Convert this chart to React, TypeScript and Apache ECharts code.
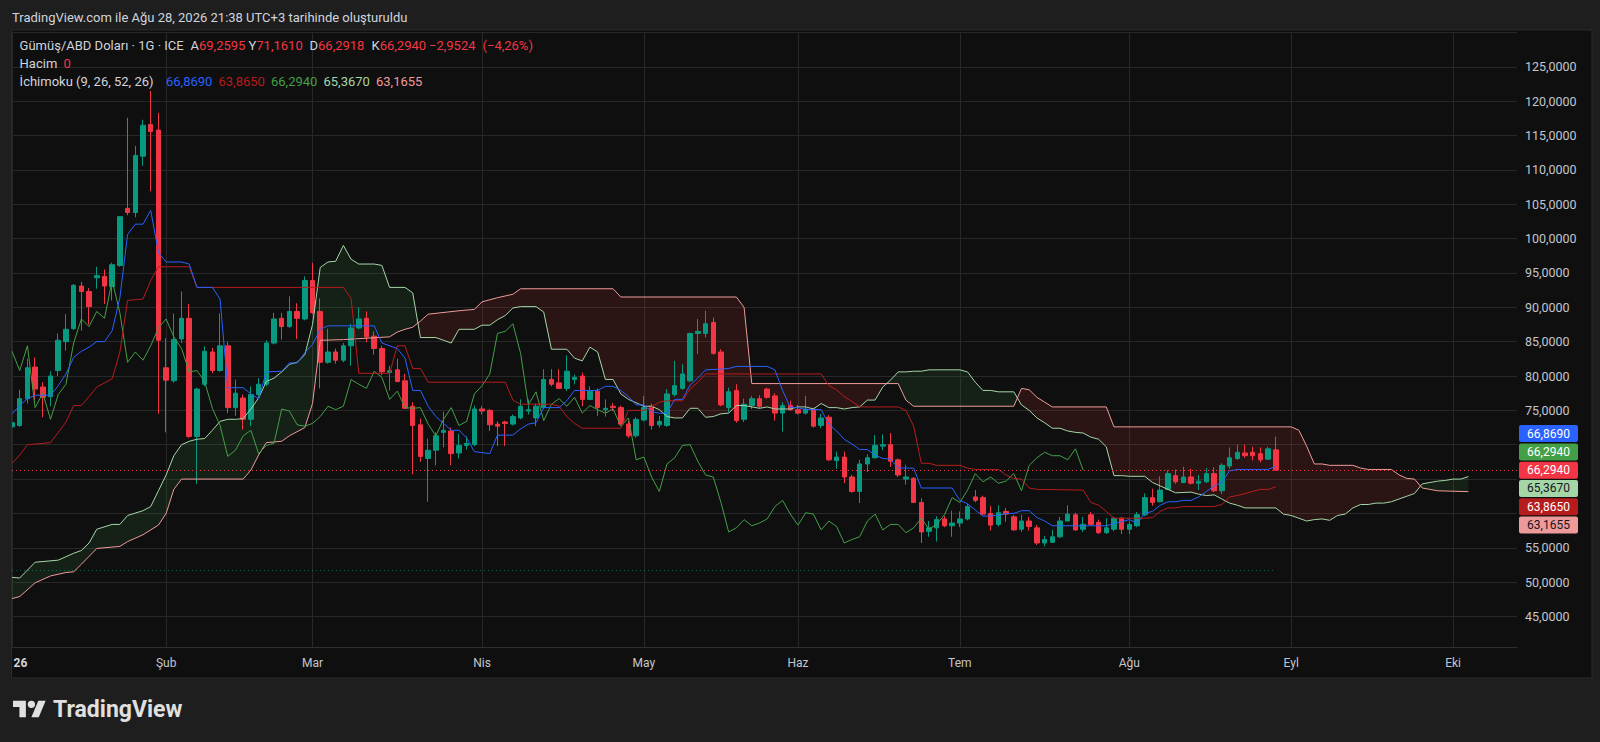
import React, { useEffect, useRef } from "react";
import * as echarts from "echarts";

// ---------- axis / calendar ----------
const FIRST_INDEX = -20; // 2 Jan 2026 (bar index, 0 = 2 Feb 2026)
const X_MAX = 175.3;
const monthStartIndex = [-20, 0, 19, 41, 62, 82, 103, 125, 146, 167];
const monthLabels = ["26", "Şub", "Mar", "Nis", "May", "Haz", "Tem", "Ağu", "Eyl", "Eki"];

// ---------- daily candles (index -20 .. 144) ----------
const opens = [
  72.6, 72.8, 76.7, 81.3, 78.4, 77.0, 80.8, 85.0, 86.9, 93.1,
  92.3, 94.3, 94.5, 93.0, 96.1, 104.4, 103.8, 112.0, 116.6, 115.8,
  81.2, 79.3, 85.4, 88.4, 71.2, 78.8, 83.5, 80.8, 84.4, 75.4,
  76.8, 73.7, 77.3, 78.8, 84.8, 88.4, 87.2, 89.4, 88.3, 93.9,
  89.4, 82.0, 83.5, 82.3, 84.4, 87.0, 88.4, 85.8, 84.0, 80.5,
  80.9, 79.3, 75.6, 72.9, 68.0, 69.2, 71.8, 72.0, 68.8, 69.9,
  70.0, 75.2, 75.0, 73.0, 73.3, 73.0, 73.9, 74.9, 73.9, 75.4,
  79.5, 79.0, 78.2, 79.5, 80.0, 76.6, 77.8, 75.1, 75.6, 75.4,
  73.0, 71.3, 73.6, 75.6, 72.9, 72.8, 77.3, 78.2, 79.3, 86.2,
  86.2, 87.8, 83.5, 75.4, 77.9, 73.7, 75.7, 76.7, 78.1, 77.1,
  74.6, 75.7, 75.1, 74.6, 75.2, 72.8, 74.0, 67.7, 68.2, 65.3,
  63.2, 67.2, 68.1, 69.8, 70.0, 67.8, 65.0, 65.1, 61.6, 57.4,
  57.9, 59.2, 58.2, 58.6, 59.2, 62.4, 62.3, 60.0, 58.4, 60.3,
  59.5, 57.7, 58.9, 57.9, 55.7, 55.8, 56.6, 58.9, 59.8, 57.7,
  59.8, 58.7, 57.2, 57.7, 59.3, 57.7, 58.2, 59.8, 62.3, 61.7,
  63.5, 65.5, 64.5, 65.3, 64.4, 64.6, 65.8, 63.3, 66.9, 68.0,
  68.8, 68.9, 68.7, 67.9, 69.2595,
];
const closes = [
  73.2, 76.7, 81.2, 78.1, 76.9, 80.0, 85.2, 86.8, 93.2, 92.3,
  90.1, 94.6, 93.1, 96.2, 103.2, 103.8, 112.1, 116.5, 115.6, 85.2,
  79.4, 85.3, 88.4, 71.2, 78.1, 83.6, 80.8, 84.4, 75.4, 77.5,
  73.7, 77.3, 78.8, 84.8, 88.3, 87.2, 89.4, 88.4, 93.9, 89.2,
  82.0, 83.5, 82.3, 84.4, 87.0, 88.3, 85.7, 84.0, 80.6, 80.8,
  79.2, 75.3, 72.8, 68.3, 69.2, 71.3, 72.1, 68.7, 69.9, 70.2,
  75.2, 74.9, 72.9, 72.7, 73.1, 74.1, 75.6, 75.1, 75.6, 79.5,
  78.8, 78.2, 80.7, 79.8, 76.6, 77.8, 75.4, 75.3, 75.4, 73.0,
  71.3, 73.7, 75.4, 72.8, 73.4, 77.4, 78.6, 80.3, 86.2, 86.5,
  87.6, 83.3, 75.8, 77.7, 73.5, 75.9, 76.7, 75.6, 76.9, 74.6,
  75.7, 75.1, 74.6, 75.2, 72.7, 73.9, 67.8, 68.2, 65.3, 63.2,
  67.2, 68.1, 69.9, 70.0, 67.6, 65.6, 65.3, 61.6, 57.3, 57.9,
  59.1, 58.2, 58.6, 59.2, 61.0, 61.9, 59.9, 58.3, 60.1, 59.9,
  57.6, 58.9, 58.1, 55.7, 56.2, 56.6, 58.9, 59.9, 57.6, 58.4,
  58.4, 57.2, 57.9, 59.3, 57.7, 58.4, 59.8, 62.3, 61.6, 63.4,
  65.8, 64.6, 65.3, 64.4, 64.7, 65.8, 63.3, 67.0, 68.1, 68.9,
  68.4, 68.4, 67.8, 69.4, 66.294,
];
const lows = [
  72.0, 72.6, 76.0, 76.5, 74.0, 75.6, 80.0, 83.7, 86.7, 86.6,
  87.5, 92.7, 90.5, 91.0, 95.9, 103.4, 103.1, 110.6, 106.9, 74.5,
  71.8, 79.0, 84.8, 71.0, 64.3, 78.5, 80.4, 80.6, 74.6, 74.2,
  72.2, 72.7, 77.0, 78.5, 84.6, 85.3, 87.0, 85.4, 88.1, 89.0,
  78.2, 81.8, 81.8, 82.0, 81.5, 86.8, 84.9, 83.1, 80.1, 77.9,
  79.1, 75.2, 65.7, 67.5, 61.7, 67.0, 69.6, 67.0, 68.0, 69.3,
  69.8, 74.4, 72.0, 69.8, 69.8, 72.8, 73.7, 74.4, 72.7, 75.2,
  78.5, 78.1, 77.8, 78.8, 75.6, 76.5, 74.2, 74.1, 74.9, 72.8,
  71.0, 71.0, 73.4, 72.2, 72.5, 72.6, 77.0, 78.0, 79.1, 83.2,
  85.6, 83.1, 75.6, 74.7, 73.2, 73.3, 75.2, 75.3, 76.7, 73.5,
  71.9, 74.9, 74.4, 74.4, 72.5, 72.4, 67.6, 66.5, 64.4, 63.0,
  61.5, 66.0, 68.0, 69.2, 66.8, 65.3, 64.2, 61.5, 55.7, 56.6,
  55.9, 58.0, 56.6, 58.0, 59.0, 61.6, 59.8, 57.5, 58.1, 58.8,
  57.5, 57.3, 57.5, 55.4, 55.2, 55.7, 56.4, 58.8, 57.5, 57.3,
  58.3, 57.0, 57.0, 57.4, 57.0, 57.0, 58.0, 59.6, 61.1, 61.6,
  63.4, 64.3, 64.4, 64.2, 63.4, 64.5, 63.1, 62.8, 66.5, 67.8,
  68.1, 67.7, 67.4, 67.8, 66.2918,
];
const highs = [
  74.0, 78.0, 82.5, 82.7, 79.1, 80.7, 86.2, 89.0, 93.4, 93.7,
  92.8, 95.9, 95.5, 96.5, 103.3, 117.6, 113.5, 117.3, 121.5, 118.3,
  85.5, 89.1, 92.3, 90.5, 78.3, 84.3, 84.1, 89.1, 85.0, 79.5,
  77.3, 78.5, 79.7, 85.2, 89.2, 89.2, 91.6, 90.6, 94.5, 96.5,
  91.3, 86.9, 84.0, 84.8, 87.6, 90.0, 89.4, 86.5, 84.4, 81.5,
  82.5, 80.3, 76.2, 73.8, 70.9, 71.8, 74.8, 72.5, 71.6, 71.2,
  75.7, 75.6, 75.2, 73.4, 73.5, 74.4, 76.6, 76.6, 76.0, 81.0,
  81.0, 81.0, 83.0, 80.2, 80.5, 78.5, 78.2, 76.6, 76.1, 75.7,
  73.5, 74.0, 77.1, 76.0, 74.2, 78.1, 82.2, 81.7, 86.3, 88.3,
  89.5, 88.5, 83.9, 78.3, 78.8, 76.7, 77.1, 77.2, 78.3, 77.5,
  76.2, 76.4, 75.8, 77.1, 75.4, 74.5, 74.3, 69.0, 69.0, 65.6,
  67.8, 68.6, 71.4, 71.5, 71.7, 68.0, 67.1, 65.3, 62.2, 58.9,
  59.6, 59.6, 60.4, 60.3, 61.4, 63.4, 62.6, 61.1, 61.2, 60.8,
  59.8, 59.8, 59.5, 58.3, 56.7, 57.6, 59.5, 61.2, 60.1, 59.5,
  60.2, 59.1, 59.3, 59.5, 59.5, 58.9, 60.2, 62.9, 63.6, 65.4,
  66.3, 66.4, 66.8, 66.5, 65.6, 66.6, 66.7, 67.3, 69.6, 70.0,
  70.0, 69.7, 69.6, 69.7, 71.161,
];

// ---------- Ichimoku lines: [bar index, value] ----------
const tenkanPoints = [
  [-20, 74.5], [-19, 75.7], [-18, 76.7], [-17, 77.2], [-15, 77.2], [-14, 78.6], [-13, 80.3], [-12, 82.7],
  [-11, 83.6], [-10, 84.2], [-9, 85.0], [-8, 85.0], [-7, 86.6], [-6, 91.4], [-5, 100.6], [-4, 102.1],
  [-3, 102.1], [-2, 104.1], [-1, 98.0], [0, 96.6], [2, 96.6], [3, 96.3], [4, 92.9], [6, 92.9], [7, 91.2],
  [8, 78.3], [10, 78.3], [11, 77.4], [12, 76.7], [13, 80.6], [15, 80.7], [16, 81.9], [17, 81.9], [18, 83.4],
  [19, 84.6], [20, 86.8], [21, 87.3], [27, 87.3], [28, 84.8], [30, 84.0], [31, 82.6], [32, 77.9], [33, 77.9],
  [34, 75.6], [35, 74.1], [36, 73.1], [37, 72.1], [38, 72.1], [39, 71.0], [40, 69.0], [42, 68.7], [43, 71.4],
  [45, 71.4], [46, 72.3], [47, 73.0], [48, 73.2], [49, 75.4], [51, 75.4], [52, 76.4], [53, 77.9], [56, 77.9],
  [57, 78.5], [58, 78.5], [59, 77.9], [60, 77.0], [61, 75.8], [62, 75.8], [63, 74.8], [64, 74.6], [65, 74.6],
  [66, 76.6], [67, 76.6], [68, 78.7], [69, 79.7], [70, 80.9], [72, 81.0], [73, 81.1], [74, 81.4], [78, 81.4],
  [79, 80.9], [80, 77.9], [81, 75.4], [82, 75.4], [83, 75.1], [85, 75.1], [86, 73.0], [87, 72.0], [88, 70.8],
  [89, 70.1], [90, 69.3], [91, 69.3], [92, 68.5], [93, 68.0], [94, 67.9], [95, 66.6], [97, 66.6], [98, 63.7],
  [102, 63.7], [103, 61.9], [104, 61.4], [105, 60.5], [106, 59.6], [108, 59.7], [109, 60.0], [110, 60.0],
  [111, 60.4], [112, 60.4], [113, 59.4], [114, 58.9], [115, 58.2], [122, 58.2], [123, 58.5], [124, 58.8],
  [125, 59.1], [126, 58.6], [127, 60.0], [128, 60.3], [129, 61.2], [130, 61.7], [131, 61.7], [132, 61.9],
  [133, 61.9], [134, 62.4], [135, 63.2], [136, 64.0], [137, 64.5], [138, 66.2], [139, 66.4], [143, 66.4],
  [144, 66.869],
];
const kijunPoints = [
  [-20, 67.3], [-19, 68.5], [-18, 70.0], [-15, 70.3], [-14, 71.8], [-13, 73.3], [-12, 75.7], [-11, 75.7],
  [-10, 77.0], [-9, 78.4], [-8, 79.0], [-7, 79.6], [-6, 83.5], [-5, 91.0], [-3, 91.2], [-2, 93.9], [-1, 95.9],
  [3, 95.9], [4, 92.9], [23, 92.9], [24, 91.3], [25, 80.4], [29, 80.4], [30, 84.4], [31, 84.4], [32, 81.1],
  [33, 81.1], [34, 79.1], [44, 79.1], [45, 76.5], [46, 75.9], [50, 75.9], [51, 75.6], [52, 74.1], [53, 73.1],
  [54, 72.4], [59, 72.4], [60, 75.0], [62, 75.0], [63, 75.5], [64, 76.2], [65, 76.4], [67, 76.4], [68, 78.1],
  [69, 79.1], [70, 80.3], [85, 80.3], [86, 78.6], [87, 78.0], [88, 77.0], [89, 76.3], [90, 75.5], [95, 75.5],
  [96, 75.0], [97, 72.7], [98, 67.3], [99, 67.3], [100, 67.0], [103, 67.0], [104, 66.6], [105, 66.4],
  [108, 66.4], [109, 65.6], [110, 65.1], [111, 65.0], [112, 63.7], [113, 63.5], [119, 63.4], [120, 61.6],
  [121, 61.2], [122, 60.3], [123, 59.3], [127, 59.3], [128, 59.4], [129, 60.3], [130, 60.8], [131, 60.8],
  [132, 61.0], [136, 61.0], [137, 61.3], [138, 62.4], [139, 62.6], [140, 62.9], [141, 63.2], [142, 63.5],
  [143, 63.5], [144, 63.865],
];
const spanAPoints = [
  [-20, 50.7], [-19, 50.6], [-17, 52.9], [-14, 53.2], [-13, 53.7], [-12, 54.2], [-11, 54.6], [-10, 55.7],
  [-9, 57.7], [-7, 58.4], [-6, 58.4], [-5, 59.7], [-3, 60.4], [-2, 61.0], [-1, 63.3], [0, 65.6], [1, 68.4],
  [2, 70.0], [3, 70.5], [4, 70.8], [5, 70.9], [6, 72.1], [7, 73.4], [8, 73.7], [9, 73.7], [10, 73.8],
  [11, 75.2], [12, 76.8], [13, 79.2], [14, 79.7], [15, 80.6], [16, 81.7], [17, 82.0], [18, 83.1], [19, 87.5],
  [20, 95.8], [21, 96.6], [22, 96.7], [23, 99.0], [24, 97.0], [25, 96.3], [27, 96.3], [28, 96.1], [29, 92.9],
  [31, 92.9], [32, 92.1], [33, 85.6], [35, 85.6], [36, 85.2], [37, 84.8], [38, 86.8], [40, 86.8], [41, 87.4],
  [42, 87.4], [43, 88.2], [44, 88.8], [45, 89.9], [46, 90.1], [48, 90.1], [49, 89.3], [50, 83.9], [52, 83.9],
  [53, 82.6], [54, 82.2], [55, 84.2], [56, 83.5], [57, 79.5], [58, 79.5], [59, 77.4], [60, 76.6], [61, 76.1],
  [62, 75.6], [63, 75.6], [64, 75.1], [65, 74.1], [66, 73.9], [67, 73.9], [68, 75.3], [69, 75.3], [70, 74.0],
  [71, 74.1], [72, 74.5], [73, 74.6], [74, 75.7], [75, 75.7], [76, 75.5], [77, 75.3], [78, 75.5], [79, 75.2],
  [81, 75.2], [82, 75.5], [83, 75.5], [84, 75.2], [85, 76.0], [86, 75.4], [87, 75.4], [88, 75.2], [89, 75.4],
  [90, 75.5], [91, 76.5], [92, 76.5], [93, 78.4], [94, 79.4], [95, 80.6], [96, 80.6], [97, 80.7], [98, 80.7],
  [99, 80.9], [103, 80.9], [104, 80.6], [105, 79.1], [106, 77.9], [107, 77.9], [108, 77.7], [110, 77.7],
  [111, 75.8], [112, 75.0], [113, 73.9], [114, 73.2], [115, 72.4], [116, 72.4], [117, 72.0], [118, 71.8],
  [119, 71.7], [120, 71.1], [121, 70.8], [122, 69.7], [123, 65.5], [124, 65.5], [125, 65.4], [127, 65.4],
  [128, 64.5], [129, 64.0], [130, 63.5], [131, 63.0], [133, 63.1], [134, 62.8], [135, 62.6], [136, 62.7],
  [137, 62.1], [138, 61.5], [139, 61.2], [140, 60.8], [144, 60.8], [145, 59.9], [146, 59.7], [147, 59.3],
  [148, 58.9], [149, 59.1], [150, 59.2], [151, 59.0], [152, 59.7], [153, 59.9], [154, 60.8], [155, 61.3],
  [156, 61.3], [157, 61.5], [158, 61.5], [159, 61.7], [160, 62.1], [161, 62.5], [162, 62.9], [163, 64.3],
  [164, 64.5], [165, 64.7], [166, 64.8], [167, 65.0], [168, 65.0], [169, 65.367],
];
const spanBPoints = [
  [-20, 47.6], [-19, 47.9], [-17, 49.9], [-15, 50.9], [-13, 51.4], [-12, 51.5], [-11, 52.6], [-9, 54.9],
  [-6, 55.2], [-5, 55.9], [-3, 56.9], [-1, 58.3], [0, 60.0], [1, 63.5], [2, 65.0], [10, 65.0], [11, 66.3],
  [12, 68.5], [13, 70.3], [15, 70.5], [16, 71.3], [18, 72.5], [19, 76.0], [20, 85.2], [23, 85.3], [26, 85.5],
  [29, 85.7], [30, 86.4], [31, 86.8], [32, 87.1], [33, 88.0], [34, 89.0], [38, 89.5], [40, 89.7], [41, 90.8],
  [43, 91.4], [45, 91.9], [46, 92.7], [58, 92.7], [59, 91.5], [74, 91.5], [75, 90.0], [76, 78.9], [95, 78.9],
  [96, 76.5], [97, 75.6], [110, 75.6], [111, 78.2], [112, 78.0], [113, 76.9], [114, 76.2], [115, 75.5],
  [122, 75.5], [123, 72.6], [146, 72.6], [147, 72.1], [148, 69.8], [149, 67.2], [150, 67.2], [151, 67.0],
  [154, 67.0], [155, 66.6], [156, 66.4], [159, 66.4], [160, 65.6], [161, 65.1], [162, 65.0], [163, 63.7],
  [164, 63.5], [165, 63.3], [169, 63.1655],
];
const LAG_SHIFT = 25;

// ---------- legend values ----------
const lastBar = { open: 69.2595, high: 71.161, low: 66.2918, close: 66.294 };
const lastChange = -2.9524;
const lastChangePct = -4.26;
const lastVolume = 0;
const volumeLineLevel = 51.7;
const ichimokuLast = [66.869, 63.865, 66.294, 65.367, 63.1655]; // conversion, base, lagging, spanA, spanB

// ---------- styles ----------
const FONT = "Roboto, 'Noto Sans', sans-serif";
const PANEL_BG = "#0f0f0f";
const OUTER_BG = "#1e1e1e";
const GRID_COLOR = "#282828";
const TEXT = "#d1d4dc";
const AXIS_TEXT = "#c3c6ce";
const UP = "#089981";
const DOWN = "#f23645";
const C_TENKAN = "#2962ff";
const C_KIJUN = "#b71c1c";
const C_LAG = "#43a047";
const C_SPANA = "#a5d6a7";
const C_SPANB = "#ef9a9a";
const CLOUD_UP = "rgba(67,160,71,0.12)";
const CLOUD_DOWN = "rgba(244,67,54,0.12)";
const TAG_PITCH = 18.3;
const TAG_H = 17;

const TV_LOGO_PATH =
  "M14 22H7V11H0V4h14v18zM28 22h-8l7.5-18h8L28 22zM16 8a4 4 0 1 0 8 0a4 4 0 1 0 -8 0z";
echarts.graphic.registerShape("tvLogo", echarts.graphic.extendPath(TV_LOGO_PATH, {}));

const fmt = (v: number) => v.toFixed(4).replace(".", ",").replace("-", "\u2212");

function piecewise(pts: number[][], x: number) {
  if (x <= pts[0][0]) return pts[0][1];
  for (let i = 1; i < pts.length; i++) {
    if (x <= pts[i][0]) {
      const [x0, y0] = pts[i - 1];
      const [x1, y1] = pts[i];
      return y0 + ((y1 - y0) * (x - x0)) / (x1 - x0);
    }
  }
  return pts[pts.length - 1][1];
}

function cloudShapes(A: number[][], B: number[][]) {
  const xs = Array.from(new Set([...A.map((p) => p[0]), ...B.map((p) => p[0])])).sort((a, b) => a - b);
  const shapes: { up: boolean; pts: number[][] }[] = [];
  let upper: number[][] = [];
  let lower: number[][] = [];
  let sign = 0;
  for (let i = 0; i < xs.length; i++) {
    const x = xs[i];
    const a = piecewise(A, x);
    const b = piecewise(B, x);
    const s = a >= b ? 1 : -1;
    if (i === 0) {
      upper = [[x, a]];
      lower = [[x, b]];
      sign = s;
      continue;
    }
    if (s !== sign) {
      const xp = xs[i - 1];
      const ap = piecewise(A, xp);
      const bp = piecewise(B, xp);
      const d0 = ap - bp;
      const d1 = a - b;
      const t = d0 / (d0 - d1);
      const xc = xp + t * (x - xp);
      const yc = ap + t * (a - ap);
      upper.push([xc, yc]);
      shapes.push({ up: sign > 0, pts: upper.concat(lower.slice().reverse()) });
      upper = [[xc, yc], [x, a]];
      lower = [[xc, yc], [x, b]];
      sign = s;
    } else {
      upper.push([x, a]);
      lower.push([x, b]);
    }
  }
  shapes.push({ up: sign > 0, pts: upper.concat(lower.slice().reverse()) });
  return shapes;
}

function yLabelFormatter(hideLo: number, hideHi: number) {
  return (v: number) => {
    if (v < 44.9 || v > 125.1) return "";
    if (v >= hideLo && v <= hideHi) return "";
    return fmt(v);
  };
}

function buildOption() {
  const candleData = opens.map((o, k) => [FIRST_INDEX + k, o, closes[k], lows[k], highs[k]]);
  const lastIndex = FIRST_INDEX + opens.length - 1;
  const laggingData = closes.map((c, k) => [FIRST_INDEX + k - LAG_SHIFT, c]);
  const cloud = cloudShapes(spanAPoints, spanBPoints);

  const line = (name: string, data: number[][], color: string, z = 4, extra: any = {}) => ({
    type: "line",
    name,
    data,
    symbol: "none",
    showSymbol: false,
    silent: true,
    z,
    lineStyle: { color, width: 1 },
    ...extra,
  });

  return {
    animation: false,
    backgroundColor: PANEL_BG,
    grid: { left: 12, right: 1600 - 1517, top: 32.5, bottom: 742 - 647.4, containLabel: false },
    xAxis: {
      type: "value",
      min: FIRST_INDEX,
      max: X_MAX,
      axisLine: { show: true, lineStyle: { color: "#2e2e2e" } },
      axisTick: { show: false, customValues: monthStartIndex },
      splitLine: { show: true, lineStyle: { color: GRID_COLOR, width: 1 } },
      axisLabel: {
        customValues: monthStartIndex,
        color: AXIS_TEXT,
        fontFamily: FONT,
        fontSize: 12,
        margin: 10,
        formatter: (v: number) => {
          const k = monthStartIndex.indexOf(Math.round(v));
          if (k < 0) return "";
          return k === 0 ? `{y|${monthLabels[0]}}` : monthLabels[k];
        },
        rich: {
          y: { fontWeight: "bold", color: TEXT, fontFamily: FONT, fontSize: 12, padding: [0, 0, 0, 17] },
        },
      },
    },
    yAxis: {
      type: "value",
      position: "right",
      min: 40.5,
      max: 130,
      splitNumber: 18,
      minInterval: 5,
      maxInterval: 5,
      axisLine: { show: false },
      axisTick: { show: false },
      splitLine: { show: true, lineStyle: { color: GRID_COLOR, width: 1 } },
      axisLabel: {
        color: AXIS_TEXT,
        fontFamily: FONT,
        fontSize: 12.5,
        margin: 8,
        formatter: yLabelFormatter(1e9, -1e9),
      },
    },
    series: [
      {
        type: "custom",
        name: "cloud",
        silent: true,
        z: 1,
        data: [[0, 60]],
        encode: { x: 0, y: 1 },
        renderItem: (_params: any, api: any) => ({
          type: "group",
          children: cloud.map((s) => ({
            type: "polygon",
            shape: { points: s.pts.map((p) => api.coord(p)) },
            style: { fill: s.up ? CLOUD_UP : CLOUD_DOWN },
          })),
        }),
      },
      line("Leading Span A", spanAPoints, C_SPANA, 3),
      line("Leading Span B", spanBPoints, C_SPANB, 3),
      {
        type: "candlestick",
        name: "XAGUSD",
        data: candleData,
        encode: { x: 0, y: [1, 2, 3, 4] },
        barWidth: 5,
        silent: true,
        z: 2,
        itemStyle: { color: UP, color0: DOWN, borderColor: UP, borderColor0: DOWN, borderWidth: 1 },
        markLine: {
          silent: true,
          symbol: ["none", "none"],
          label: { show: false },
          lineStyle: { color: DOWN, type: [1, 3], width: 1 },
          data: [{ yAxis: lastBar.close }],
        },
      },
      line("Lagging Span", laggingData, C_LAG, 4, {
        markLine: {
          silent: true,
          symbol: ["none", "none"],
          label: { show: false },
          lineStyle: { color: "rgba(8,153,129,0.6)", type: [1, 3], width: 1 },
          data: [[{ coord: [FIRST_INDEX, volumeLineLevel] }, { coord: [lastIndex, volumeLineLevel] }]],
        },
      }),
      line("Base Line", kijunPoints, C_KIJUN, 4),
      line("Conversion Line", tenkanPoints, C_TENKAN, 5),
    ],
  };
}

function txt(
  x: number,
  y: number,
  text: string,
  fill: string,
  size = 13,
  weight: any = "normal",
  align = "left",
  lineHeight?: number
) {
  const style: any = {
    text,
    fill,
    fontFamily: FONT,
    fontSize: size,
    fontWeight: weight,
    textAlign: align,
    align,
    textVerticalAlign: "middle",
    verticalAlign: "middle",
  };
  if (lineHeight) style.lineHeight = lineHeight;
  return { type: "text", x, y, silent: true, z: 100, style };
}

// a label letter followed by its (red) value, as one text
function pair(x: number, y: number, label: string, value: string, valueColor: string) {
  return {
    type: "text",
    x,
    y,
    silent: true,
    z: 100,
    style: {
      text: `{l|${label}}{v|${value}}`,
      fontFamily: FONT,
      fontSize: 13,
      textAlign: "left",
      align: "left",
      textVerticalAlign: "middle",
      verticalAlign: "middle",
      rich: {
        l: { fill: TEXT, fontFamily: FONT, fontSize: 13 },
        v: { fill: valueColor, fontFamily: FONT, fontSize: 13 },
      },
    },
  };
}

function buildGraphics(anchorY: number) {
  const g: any[] = [
    // frame outside the chart panel
    { type: "rect", silent: true, z: 90, shape: { x: 0, y: 0, width: 1600, height: 30 }, style: { fill: OUTER_BG } },
    { type: "rect", silent: true, z: 90, shape: { x: 0, y: 678, width: 1600, height: 64 }, style: { fill: OUTER_BG } },
    { type: "rect", silent: true, z: 90, shape: { x: 0, y: 0, width: 11.5, height: 742 }, style: { fill: OUTER_BG } },
    { type: "rect", silent: true, z: 90, shape: { x: 1592, y: 0, width: 8, height: 742 }, style: { fill: OUTER_BG } },
    {
      type: "rect",
      silent: true,
      z: 91,
      shape: { x: 11.5, y: 30, width: 1580.5, height: 648 },
      style: { fill: "none", stroke: "#2a2a2a", lineWidth: 1 },
    },
    txt(12, 17.5, "TradingView.com ile Ağu 28, 2026 21:38 UTC+3 tarihinde oluşturuldu", TEXT, 13),
  ];

  // legend line 1
  const y1 = 45.5;
  g.push(txt(19.6, y1, "Gümüş/ABD Doları · 1G · ICE", TEXT));
  const ohlc: [string, number, number][] = [
    ["A", lastBar.open, 190.5],
    ["Y", lastBar.high, 248.5],
    ["D", lastBar.low, 309.5],
    ["K", lastBar.close, 371.5],
  ];
  ohlc.forEach(([k, v, xk]) => g.push(pair(xk, y1, k, fmt(v), DOWN)));
  g.push(txt(429, y1, fmt(lastChange), DOWN));
  g.push(txt(482.5, y1, `(${lastChangePct.toFixed(2).replace(".", ",").replace("-", "\u2212")}%)`, DOWN));

  // legend line 2
  g.push(txt(19.6, 63.5, "Hacim", TEXT));
  g.push(txt(63.5, 63.5, String(lastVolume), DOWN));

  // legend line 3
  const y3 = 81.5;
  g.push(txt(19.6, y3, "İchimoku (9, 26, 52, 26)", TEXT));
  const ichColors = [C_TENKAN, C_KIJUN, C_LAG, C_SPANA, C_SPANB];
  const ichX = [166, 218.5, 271, 323.5, 376];
  ichimokuLast.forEach((v, i) => g.push(txt(ichX[i], y3, fmt(v), ichColors[i])));

  // price tags on the right scale (stacked around the last price)
  const tagValues = [ichimokuLast[0], ichimokuLast[2], lastBar.close, ichimokuLast[3], ichimokuLast[1], ichimokuLast[4]];
  const tagFill = [C_TENKAN, C_LAG, DOWN, C_SPANA, C_KIJUN, C_SPANB];
  const tagText = ["#ffffff", "#ffffff", "#ffffff", "#131722", "#ffffff", "#131722"];
  tagValues.forEach((v, i) => {
    const cy = anchorY + (i - 2) * TAG_PITCH;
    g.push({
      type: "rect",
      silent: true,
      z: 95,
      shape: { x: 1519, y: cy - TAG_H / 2, width: 59, height: TAG_H, r: 2 },
      style: { fill: tagFill[i] },
    });
    g.push({ ...txt(1548.5, cy, fmt(v), tagText[i], 12, "normal", "center", 12), z: 96 });
  });

  // TradingView logo at the bottom
  g.push({
    type: "tvLogo",
    silent: true,
    z: 100,
    x: 13,
    y: 697,
    scaleX: 0.92,
    scaleY: 0.92,
    style: { fill: "#e0e0e0" },
  });
  g.push(txt(53, 709, "TradingView", "#e0e0e0", 23, "bold"));
  return g;
}

export default function App() {
  const ref = useRef<HTMLDivElement>(null);
  useEffect(() => {
    document.body.style.margin = "0";
    const el = ref.current as HTMLDivElement;
    const chart = echarts.init(el, undefined, { renderer: "svg", width: 1600, height: 742 });
    chart.setOption(buildOption() as any);
    const anchor = chart.convertToPixel({ gridIndex: 0 }, [0, lastBar.close]) as number[];
    const anchorY = anchor[1];
    // price-scale labels that fall under the stacked tags are hidden, as on the reference
    const topPx = anchorY - 2 * TAG_PITCH - TAG_H / 2 - 6;
    const botPx = anchorY + 3 * TAG_PITCH + TAG_H / 2 + 6;
    const hiVal = (chart.convertFromPixel({ gridIndex: 0 }, [0, topPx]) as number[])[1];
    const loVal = (chart.convertFromPixel({ gridIndex: 0 }, [0, botPx]) as number[])[1];
    chart.setOption({
      yAxis: { axisLabel: { formatter: yLabelFormatter(loVal, hiVal) } },
      graphic: buildGraphics(anchorY),
    } as any);
    return () => chart.dispose();
  }, []);
  return (
    <div
      ref={ref}
      style={{ position: "absolute", left: 0, top: 0, width: "1600px", height: "742px", background: PANEL_BG }}
    />
  );
}
